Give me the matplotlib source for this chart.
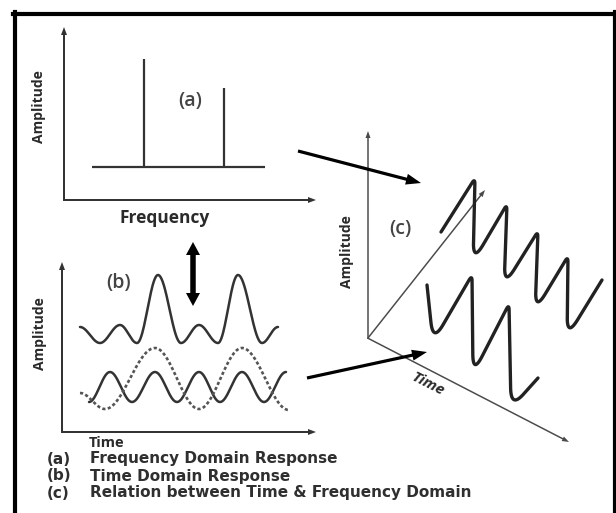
import numpy as np
import matplotlib
matplotlib.use("Agg")
import matplotlib.pyplot as plt

# ---------------- data ----------------
# (a) frequency-domain spectrum (arbitrary units)
spike_freq = [8.0, 16.0]
spike_amp = [14.1, 11.2]
noise_floor = 3.3
floor_span = [2.8, 20.1]

# (b) time-domain waves: extrema (time, amplitude)
sum_t = [1.8, 3.8, 5.8, 7.5, 9.6, 11.9, 13.7, 15.6, 17.6, 20.0, 21.6]
sum_a = [10.5, 8.9, 10.7, 8.9, 15.7, 8.9, 10.7, 8.9, 15.7, 8.9, 10.5]
high_t = [2.7, 4.8, 7.0, 9.3, 11.5, 13.7, 15.8, 18.0, 20.2, 22.4]
high_a = [3.0, 6.0, 3.0, 6.0, 3.0, 6.0, 3.0, 6.0, 3.0, 6.0]
low_t = [1.8, 4.3, 9.3, 13.7, 18.0, 22.7]
low_a = [3.9, 2.3, 8.4, 2.3, 8.4, 2.2]

# (c) waves drawn in the pseudo-3D view: turning points (x, y)
upper_x = [7.3, 10.7, 10.5, 13.9, 13.6, 17.0, 16.7, 20.0, 19.9, 23.4]
upper_y = [10.6, 16.0, 7.6, 13.4, 5.2, 10.7, 2.7, 8.2, 0.1, 5.8]
lower_x = [5.9, 6.5, 10.4, 10.5, 14.1, 14.3, 17.0]
lower_y = [5.3, -0.4, 6.3, -3.6, 3.4, -7.0, -4.0]

legend_tags = ["(a)", "(b)", "(c)"]
legend_texts = ["Frequency Domain Response", "Time Domain Response",
                "Relation between Time & Frequency Domain"]

# ---------------- figure ----------------
W, H = 616, 513
fig = plt.figure(figsize=(W / 100, H / 100), dpi=100)
fig.patch.set_facecolor("white")


def box(x0, y0, x1, y1):
    a = fig.add_axes([x0 / W, 1 - y1 / H, (x1 - x0) / W, (y1 - y0) / H])
    a.set_facecolor("none")
    a.axis("off")
    return a


def draw_wave(ax, xs, ys, **kw):
    """Smooth wave through successive extrema (half-cosine between them)."""
    segs = []
    for k in range(len(xs) - 1):
        t = np.linspace(0, 1, 40)
        x = xs[k] + t * (xs[k + 1] - xs[k])
        y = ys[k] + (1 - np.cos(np.pi * t)) / 2 * (ys[k + 1] - ys[k])
        segs.append(np.column_stack([x, y]))
    P = np.vstack(segs)
    ax.plot(P[:, 0], P[:, 1], solid_capstyle="round", **kw)


def draw_zigzag(ax, xs, ys, r_trough=2.0, r_crest=0.6, **kw):
    """Perspective wave: straight strokes, rounded troughs, sharper crests."""
    P = np.column_stack([xs, ys]).astype(float)
    out = [P[0]]
    for k in range(1, len(P) - 1):
        prev, cur, nxt = P[k - 1], P[k], P[k + 1]
        trough = cur[1] < prev[1] and cur[1] < nxt[1]
        r = r_trough if trough else r_crest
        d1, d2 = prev - cur, nxt - cur
        A = cur + d1 * min(r / np.hypot(*d1), 0.45)
        B = cur + d2 * min(r / np.hypot(*d2), 0.45)
        t = np.linspace(0, 1, 24)[:, None]
        out.extend((1 - t) ** 2 * A + 2 * (1 - t) * t * cur + t ** 2 * B)
    out.append(P[-1])
    Q = np.array(out)
    ax.plot(Q[:, 0], Q[:, 1], solid_capstyle="round", solid_joinstyle="round", **kw)


# panel (a)
axa = box(64, 28, 315, 200)
axa.set_xlim(0, 25.1)
axa.set_ylim(0, 17.2)
axa.vlines(spike_freq, noise_floor, spike_amp, color="#333333", lw=1.6)
axa.hlines(noise_floor, floor_span[0], floor_span[1], color="#333333", lw=1.6)

# panel (b)
axb = box(62, 263, 315, 432)
axb.set_xlim(0, 25.3)
axb.set_ylim(0, 16.9)
draw_wave(axb, sum_t, sum_a, color="#333333", lw=1.8)
draw_wave(axb, high_t, high_a, color="#333333", lw=1.8)
draw_wave(axb, low_t, low_a, color="#555555", lw=1.9, linestyle=(0, (1.2, 0.9)))

# panel (c)
axc = box(0, 0, W, H)
axc.set_xlim(-36.8, 24.8)
axc.set_ylim(-17.5, 33.8)
draw_zigzag(axc, upper_x, upper_y, color="#222222", lw=2.4)
draw_zigzag(axc, lower_x, lower_y, color="#222222", lw=2.4)

# overlay (pixel coordinates) for frame, axes, arrows and text
ov = box(0, 0, W, H)
ov.set_xlim(0, W)
ov.set_ylim(H, 0)
ov.set_zorder(-1)

# frame
ov.plot([14.5, 14.5], [12, H], color="black", lw=3.0)
ov.plot([13, W], [14, 14], color="black", lw=3.0)
ov.plot([614.5, 614.5], [12, H], color="black", lw=3.0)


def arrow(x0, y0, x1, y1, width, hw, hl, color):
    ov.arrow(x0, y0, x1 - x0, y1 - y0, width=width, head_width=hw, head_length=hl,
             length_includes_head=True, fc=color, ec=color, lw=0)


axis_col = "#333333"
# (a) axes
arrow(64, 201, 64, 27, 2.0, 6, 8, axis_col)
arrow(63, 200, 316, 200, 2.0, 6, 8, axis_col)
# (b) axes
arrow(62, 433, 62, 262, 2.0, 6, 8, axis_col)
arrow(61, 432, 316, 432, 2.0, 6, 8, axis_col)
# (c) axes
c_col = "#4a4a4a"
arrow(368, 339, 368, 131, 1.5, 5, 7, c_col)
arrow(367.5, 338, 569, 442, 1.5, 5, 7, c_col)
arrow(368, 338, 485, 190, 1.5, 5, 7, c_col)

# big arrows
arrow(298, 151, 421, 183, 3.2, 11, 15, "black")
arrow(307, 378, 427, 352, 3.2, 11, 15, "black")
arrow(193, 274, 193, 242, 5.5, 14, 13, "black")
arrow(193, 274, 193, 306, 5.5, 14, 13, "black")

# text
lab = dict(family=["Open Sans", "DejaVu Sans"], weight="bold", color="#2a2a2a")
ov.text(39, 107, "Amplitude", rotation=90, ha="center", va="center", fontsize=10, **lab)
ov.text(165, 218, "Frequency", ha="center", va="center", fontsize=12.5, **lab)
ov.text(40, 334, "Amplitude", rotation=90, ha="center", va="center", fontsize=10, **lab)
ov.text(107, 443, "Time", ha="center", va="center", fontsize=10.5, **lab)
ov.text(347, 252, "Amplitude", rotation=90, ha="center", va="center", fontsize=10, **lab)
ov.text(428, 384, "Time", rotation=-27, ha="center", va="center", fontsize=11,
        style="italic", **lab)

tag = dict(family=["Open Sans", "DejaVu Sans"], weight="semibold", color="#444444")
ov.text(190, 101, "(a)", ha="center", va="center", fontsize=14, **tag)
ov.text(119, 283, "(b)", ha="center", va="center", fontsize=14, **tag)
ov.text(400, 229, "(c)", ha="center", va="center", fontsize=14, **tag)

leg = dict(family="DejaVu Sans", weight="bold", color="#2f2f2f", fontsize=11, va="center")
for i, (tg, tx) in enumerate(zip(legend_tags, legend_texts)):
    y = 459 + 17 * i
    ov.text(47, y, tg, ha="left", **leg)
    ov.text(90, y, tx, ha="left", **leg)

fig.savefig("out.png", dpi=100, facecolor="white")
